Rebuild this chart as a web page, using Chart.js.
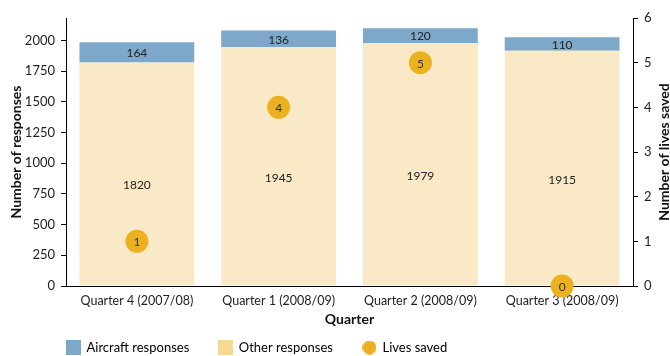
<!DOCTYPE html>
<html>
<head>
<meta charset="utf-8">
<script src="https://cdn.jsdelivr.net/npm/chart.js@4.4.0/dist/chart.umd.min.js"></script>
<style>
  body { margin: 0; background: #fff; }
  #wrap { width: 670px; height: 356px; }
</style>
</head>
<body>
<div id="wrap"><canvas id="myChart" width="670" height="356"></canvas></div>
<script>
// data
var quarters = ['Quarter 4 (2007/08)', 'Quarter 1 (2008/09)', 'Quarter 2 (2008/09)', 'Quarter 3 (2008/09)'];
var otherResponses = [1820, 1945, 1979, 1915];
var aircraftResponses = [164, 136, 120, 110];
var livesSaved = [1, 4, 5, 0];
var responseTicks = [0, 250, 500, 750, 1000, 1250, 1500, 1750, 2000];
var livesTicks = [0, 1, 2, 3, 4, 5, 6];

var blue = '#7ea8c9';
var beige = '#fae9c6';
var beigeKey = '#f6d98e';
var gold = '#ecb120';

Chart.defaults.font.family = 'Lato';
Chart.defaults.font.size = 13;
Chart.defaults.color = '#222';

// little legend swatches
function swatch(shape, color, size) {
    var c = document.createElement('canvas');
    c.width = size; c.height = size;
    var g = c.getContext('2d');
    g.fillStyle = color;
    if (shape == 'circle') {
        g.beginPath();
        g.arc(size / 2, size / 2, size / 2, 0, Math.PI * 2);
        g.fill();
    } else {
        g.fillRect(0, 0, size, size);
    }
    return c;
}

var valueLabels = {
    id: 'valueLabels',
    afterDatasetsDraw: function (chart) {
        var ctx = chart.ctx;
        var yScale = chart.scales.y;
        ctx.save();
        ctx.textAlign = 'center';
        ctx.textBaseline = 'middle';
        ctx.fillStyle = '#222';
        ctx.font = '12px Lato';
        chart.getDatasetMeta(0).data.forEach(function (bar, i) {
            ctx.fillText(otherResponses[i], bar.x, yScale.getPixelForValue(otherResponses[i] * 0.45));
        });
        chart.getDatasetMeta(1).data.forEach(function (bar, i) {
            ctx.fillText(aircraftResponses[i], bar.x, (bar.y + bar.base) / 2 + 1);
        });
        ctx.fillStyle = '#333';
        chart.getDatasetMeta(2).data.forEach(function (pt, i) {
            ctx.fillText(livesSaved[i], pt.x, pt.y + 1);
        });
        ctx.restore();
    }
};

// right axis title reads bottom to top like the left one
var rightTitle = {
    id: 'rightTitle',
    afterDraw: function (chart) {
        var ctx = chart.ctx;
        var area = chart.chartArea;
        ctx.save();
        ctx.translate(664, (area.top + area.bottom) / 2);
        ctx.rotate(-Math.PI / 2);
        ctx.textAlign = 'center';
        ctx.textBaseline = 'middle';
        ctx.fillStyle = '#111';
        ctx.font = 'bold 14px Lato';
        ctx.fillText('Number of lives saved', 0, 0);
        ctx.restore();
    }
};

// legend: keep it short in the layout, then move it left of centre like the reference
var legendPlace = {
    id: 'legendPlace',
    afterInit: function (chart) {
        var fit = chart.legend.fit;
        chart.legend.fit = function () {
            fit.call(this);
            this.height = 22;
        };
    },
    afterLayout: function (chart) {
        chart.legend.left += 37;
        chart.legend.right += 37;
        chart.legend.top = 311;
    }
};

var ctx = document.getElementById('myChart').getContext('2d');

var chart = new Chart(ctx, {
    type: 'bar',
    data: {
        labels: quarters,
        datasets: [
            {
                label: 'Other responses',
                data: otherResponses,
                backgroundColor: beige,
                stack: 'resp',
                order: 1,
                barPercentage: 0.81,
                categoryPercentage: 1
            },
            {
                label: 'Aircraft responses',
                data: aircraftResponses,
                backgroundColor: blue,
                stack: 'resp',
                order: 1,
                barPercentage: 0.81,
                categoryPercentage: 1
            },
            {
                type: 'line',
                label: 'Lives saved',
                data: livesSaved,
                yAxisID: 'y2',
                showLine: false,
                pointRadius: 11.5,
                pointHoverRadius: 11.5,
                pointBackgroundColor: gold,
                pointBorderWidth: 0,
                backgroundColor: gold,
                clip: false,
                order: 0
            }
        ]
    },
    options: {
        responsive: false,
        animation: false,
        layout: { padding: { top: 18, right: 0, left: 0, bottom: 0 } },
        plugins: {
            tooltip: { enabled: false },
            legend: {
                position: 'bottom',
                align: 'start',
                labels: {
                    usePointStyle: true,
                    padding: 30,
                    font: { size: 13 },
                    color: '#222',
                    generateLabels: function () {
                        return [
                            { text: 'Aircraft responses', pointStyle: swatch('rect', blue, 15), datasetIndex: 1 },
                            { text: 'Other responses', pointStyle: swatch('rect', beigeKey, 15), datasetIndex: 0 },
                            { text: 'Lives saved', pointStyle: swatch('circle', gold, 14), datasetIndex: 2 }
                        ];
                    }
                }
            }
        },
        scales: {
            x: {
                stacked: true,
                grid: { display: false, drawTicks: false },
                border: { color: '#000', width: 1 },
                ticks: { font: { size: 12.5 }, color: '#222', padding: 7, maxRotation: 0 },
                title: { display: true, text: 'Quarter', font: { size: 14, weight: 'bold' }, color: '#111', padding: { top: 2, bottom: 6 } },
                afterFit: function (scale) { scale.height = 48; }
            },
            y: {
                stacked: true,
                position: 'left',
                min: 0,
                max: 2182,
                ticks: {
                    stepSize: 250, padding: 6, font: { size: 13 }, color: '#222',
                    callback: function (v) { return String(v); }
                },
                afterBuildTicks: function (scale) {
                    scale.ticks = responseTicks.map(function (v) { return { value: v }; });
                },
                grid: { drawOnChartArea: false, color: '#000', tickLength: 5 },
                border: { color: '#000', width: 1 },
                title: { display: true, text: 'Number of responses', font: { size: 14, weight: 'bold' }, color: '#111', padding: { top: 8, bottom: 0 } },
                afterFit: function (scale) { scale.width = 66; }
            },
            y2: {
                position: 'right',
                min: 0,
                max: 6,
                ticks: {
                    stepSize: 1, padding: 6, font: { size: 13 }, color: '#222',
                    callback: function (v) { return String(v); }
                },
                afterBuildTicks: function (scale) {
                    scale.ticks = livesTicks.map(function (v) { return { value: v }; });
                },
                grid: { drawOnChartArea: false, color: '#000', tickLength: 5 },
                border: { color: '#000', width: 1 },
                afterFit: function (scale) { scale.width = 37; }
            }
        }
    },
    plugins: [valueLabels, rightTitle, legendPlace]
});
</script>
</body>
</html>
